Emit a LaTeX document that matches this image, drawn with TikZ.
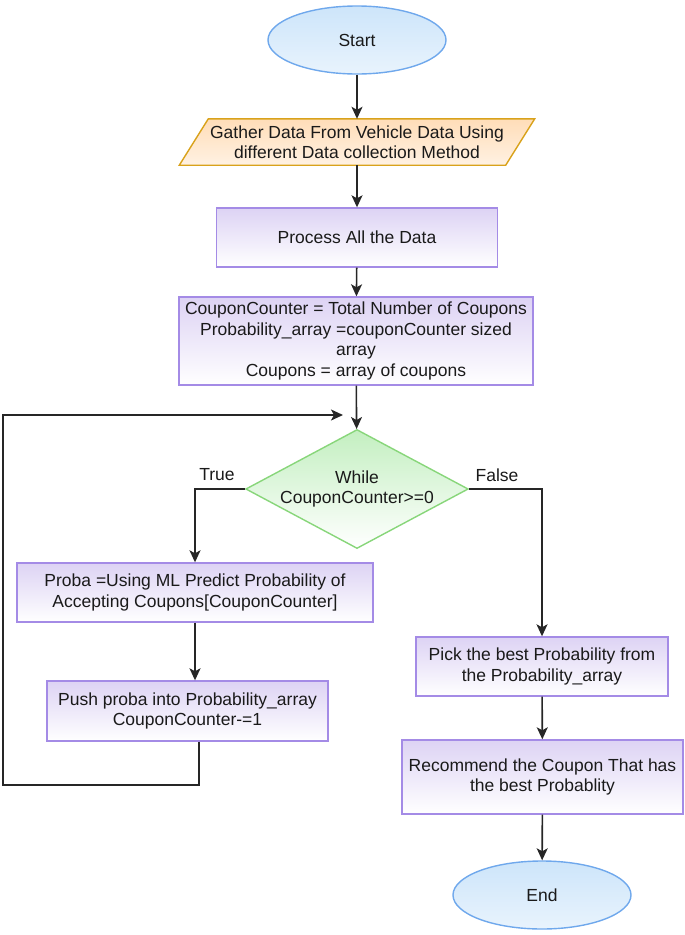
\documentclass[tikz,border=0pt]{standalone}
\usepackage{fontspec}
\setmainfont{Liberation Sans}
\usetikzlibrary{shapes.geometric,arrows.meta,backgrounds}
\definecolor{blueB}{HTML}{6FA8EC}
\definecolor{blueF}{HTML}{CDE5FA}
\definecolor{oraB}{HTML}{D9A21B}
\definecolor{oraF}{HTML}{FFDDB8}
\definecolor{purB}{HTML}{A48BE6}
\definecolor{purF}{HTML}{DDD3F4}
\definecolor{grnB}{HTML}{88D67A}
\definecolor{grnF}{HTML}{C3EFC0}
\definecolor{txt}{HTML}{1A1A1A}
\begin{document}
\begin{tikzpicture}[x=1pt,y=-1pt,
  every node/.style={font=\fontsize{17.5}{20.5}\selectfont, align=center, inner sep=0pt, text=txt},
  term/.style={ellipse, draw=blueB, line width=1.4pt, top color=blueF, bottom color=blueF!45!white, minimum width=178pt, minimum height=68pt},
  proc/.style={rectangle, draw=purB, line width=1.4pt, top color=purF, bottom color=white},
  dec/.style={diamond, draw=grnB, line width=1.4pt, top color=grnF, bottom color=white, minimum width=221pt, minimum height=118pt, aspect=1.87},
  arr/.style={draw=black!85, line width=1.6pt, -{Stealth[length=12pt,width=11pt,inset=3pt]}},
  lbl/.style={}
]
\useasboundingbox (0,0) rectangle (685,935);

\node[term] (start) at (357,40) {Start};
\node[minimum width=326pt, minimum height=46pt] (gather) at (357,142) {Gather Data From Vehicle Data Using\\different Data collection Method};
\begin{scope}[on background layer]
  \shade[top color=oraF, bottom color=oraF!40!white]
    ([xshift=14.5pt]gather.north west) -- ([xshift=14.5pt]gather.north east) -- ([xshift=-14.5pt]gather.south east) -- ([xshift=-14.5pt]gather.south west) -- cycle;
  \draw[draw=oraB, line width=1.4pt, line join=miter]
    ([xshift=14.5pt]gather.north west) -- ([xshift=14.5pt]gather.north east) -- ([xshift=-14.5pt]gather.south east) -- ([xshift=-14.5pt]gather.south west) -- cycle;
\end{scope}
\node[proc, minimum width=281pt, minimum height=59pt] (process) at (357,237.5) {Process All the Data};
\node[proc, minimum width=354pt, minimum height=88pt] (coupon) at (356,341) {CouponCounter = Total Number of Coupons\\Probability\_array =couponCounter sized\\array\\Coupons = array of coupons};
\node[dec] (dec) at (357,489) {While\\CouponCounter>=0};
\node[proc, minimum width=356pt, minimum height=59pt] (proba) at (195,592.5) {Proba =Using ML Predict Probability of\\Accepting Coupons[CouponCounter]};
\node[proc, minimum width=281pt, minimum height=60pt] (push) at (187.5,711) {Push proba into Probability\_array\\CouponCounter-=1};
\node[proc, minimum width=252pt, minimum height=59pt] (pick) at (542,666.5) {Pick the best Probability from\\the Probability\_array};
\node[proc, minimum width=281pt, minimum height=74pt] (recommend) at (542.5,777) {Recommend the Coupon That has\\the best Probablity};
\node[term] (endn) at (542,895) {End};

\node[lbl] (tl) at (217,475) {True};
\node[lbl] (fl) at (497,475) {False};

\coordinate (lx) at (199,745);
\coordinate (lp1) at (3,785);
\coordinate (lp2) at (343,415);

\draw[arr] (start) -- (gather);
\draw[arr] (gather) -- (process);
\draw[arr] (process) -- (coupon);
\draw[arr] (coupon) -- (dec);
\draw[arr] (dec.west) -| (proba.north);
\draw[arr] (proba) -- (proba.south |- push.north);
\draw[arr] (push.south -| lx) |- (lp1) |- (lp2);
\draw[arr] (dec.east) -| (pick.north);
\draw[arr] (pick) -- (recommend);
\draw[arr] (recommend) -- (endn);
\end{tikzpicture}
\end{document}
